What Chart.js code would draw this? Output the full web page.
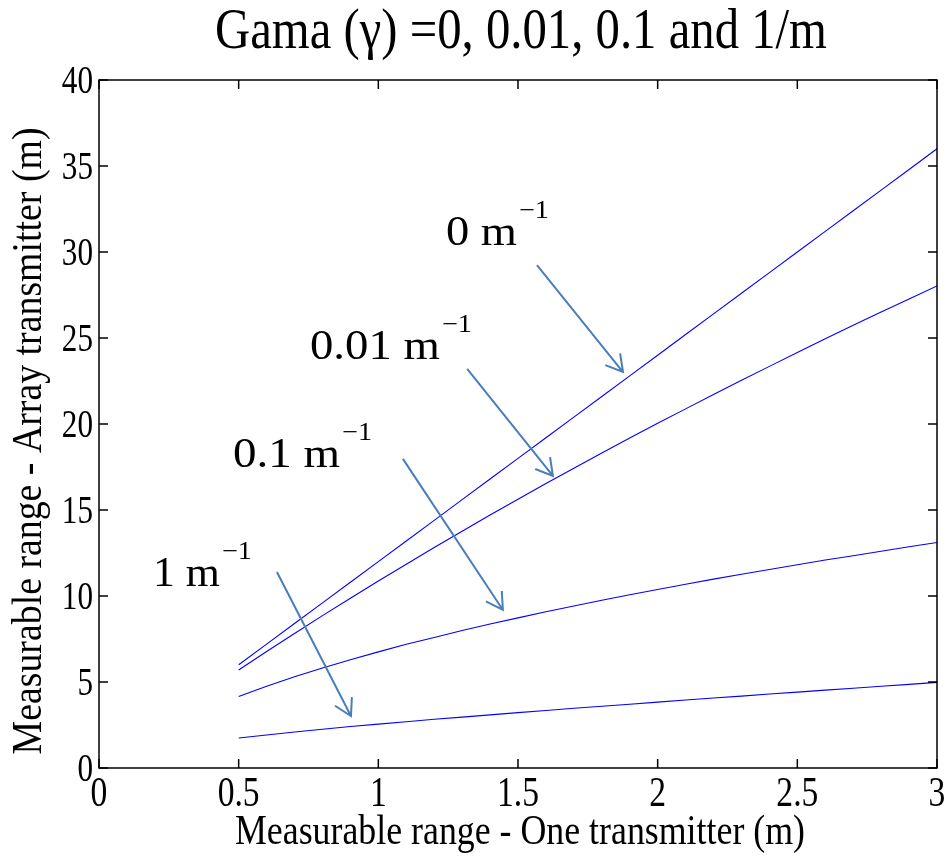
<!DOCTYPE html>
<html>
<head>
<meta charset="utf-8">
<script src="https://cdn.jsdelivr.net/npm/chart.js@4"></script>
<style>
  body { margin: 0; background: #fff; }
</style>
</head>
<body>
<canvas id="range-chart" width="949" height="860"></canvas>
<script>
// Measurable range of one transmitter (m)
const singleRange = [0.5, 0.6, 0.7, 0.8, 0.9, 1.0, 1.1, 1.2, 1.3, 1.4, 1.5, 1.6, 1.7,
                     1.8, 1.9, 2.0, 2.1, 2.2, 2.3, 2.4, 2.5, 2.6, 2.7, 2.8, 2.9, 3.0];

// Measurable range of the array transmitter (m), one list per gamma
const arrayGamma0 = [6.0, 7.2, 8.4, 9.6, 10.8, 12.0, 13.2, 14.4, 15.6, 16.8, 18.0, 19.2, 20.4,
                     21.6, 22.8, 24.0, 25.2, 26.4, 27.6, 28.8, 30.0, 31.2, 32.4, 33.6, 34.8, 36.0];
const arrayGamma001 = [5.70, 6.77, 7.82, 8.86, 9.87, 10.87, 11.85, 12.82, 13.77, 14.71, 15.63, 16.54, 17.43,
                       18.31, 19.18, 20.04, 20.88, 21.72, 22.54, 23.35, 24.16, 24.95, 25.74, 26.51, 27.27, 28.03];
const arrayGamma01 = [4.16, 4.75, 5.30, 5.81, 6.29, 6.75, 7.19, 7.59, 7.99, 8.37, 8.73, 9.08, 9.42,
                      9.75, 10.07, 10.38, 10.68, 10.98, 11.26, 11.54, 11.82, 12.09, 12.34, 12.60, 12.86, 13.11];
const arrayGamma1 = [1.74, 1.92, 2.09, 2.25, 2.41, 2.55, 2.69, 2.83, 2.96, 3.09, 3.22, 3.34, 3.47,
                     3.59, 3.71, 3.83, 3.95, 4.07, 4.18, 4.30, 4.41, 4.53, 4.64, 4.75, 4.86, 4.98];

const seriesList = [arrayGamma0, arrayGamma001, arrayGamma01, arrayGamma1];
const seriesNames = ['0 m-1', '0.01 m-1', '0.1 m-1', '1 m-1'];

const xTicks = [0, 0.5, 1, 1.5, 2, 2.5, 3];
const yTicks = [0, 5, 10, 15, 20, 25, 30, 35, 40];

const chartTitle = 'Gama (\u03b3) =0, 0.01, 0.1 and 1/m';
const xTitle = 'Measurable range - One transmitter (m)';
const yTitle = 'Measurable range - Array transmitter (m)';

// Arrow labels, in data units: text anchor, arrow tail, arrow tip
const callouts = [
    { text: '0 m',    width: 71,  tx: 1.242, ty: 30.41, x0: 1.568, y0: 29.24, x1: 1.876, y1: 23.02 },
    { text: '0.01 m', width: 130, tx: 0.755, ty: 23.78, x0: 1.318, y0: 23.20, x1: 1.625, y1: 16.98 },
    { text: '0.1 m',  width: 107, tx: 0.480, ty: 17.50, x0: 1.088, y0: 17.97, x1: 1.446, y1: 9.19 },
    { text: '1 m',    width: 67,  tx: 0.193, ty: 10.58, x0: 0.637, y0: 11.40, x1: 0.902, y1: 3.02 }
];

const SERIF = '"Liberation Serif", "DejaVu Serif", serif';

// Draw text squeezed horizontally so it spans the given width
function fitText(ctx, text, x, y, size, width, align) {
    ctx.save();
    ctx.font = size + 'px ' + SERIF;
    const w = ctx.measureText(text).width;
    ctx.translate(x, y);
    ctx.scale(width / w, 1);
    ctx.textAlign = align;
    ctx.textBaseline = 'alphabetic';
    ctx.fillText(text, 0, 0);
    ctx.restore();
}

function squeezeText(ctx, text, x, y, size, sx, align) {
    ctx.save();
    ctx.font = size + 'px ' + SERIF;
    ctx.translate(x, y);
    ctx.scale(sx, 1);
    ctx.textAlign = align;
    ctx.textBaseline = 'alphabetic';
    ctx.fillText(text, 0, 0);
    ctx.restore();
}

const matlabAxes = {
    id: 'matlabAxes',
    afterDatasetsDraw(chart) {
        const ctx = chart.ctx;
        const area = chart.chartArea;
        const xs = chart.scales.x;
        const ys = chart.scales.y;
        const tickLen = 9;

        ctx.save();
        ctx.fillStyle = '#000';

        // box
        ctx.strokeStyle = '#000';
        ctx.lineWidth = 1.5;
        ctx.strokeRect(area.left, area.top, area.right - area.left, area.bottom - area.top);

        // inward ticks on all four sides + labels
        ctx.beginPath();
        xTicks.forEach(v => {
            const px = xs.getPixelForValue(v);
            ctx.moveTo(px, area.bottom); ctx.lineTo(px, area.bottom - tickLen);
            ctx.moveTo(px, area.top); ctx.lineTo(px, area.top + tickLen);
        });
        yTicks.forEach(v => {
            const py = ys.getPixelForValue(v);
            ctx.moveTo(area.left, py); ctx.lineTo(area.left + tickLen, py);
            ctx.moveTo(area.right, py); ctx.lineTo(area.right - tickLen, py);
        });
        ctx.stroke();

        xTicks.forEach(v => {
            squeezeText(ctx, String(v), xs.getPixelForValue(v), area.bottom + 38, 42, 0.8, 'center');
        });
        yTicks.forEach(v => {
            squeezeText(ctx, String(v), area.left - 6, ys.getPixelForValue(v) + 13, 41, 0.76, 'right');
        });

        // titles
        fitText(ctx, chartTitle, (area.left + area.right) / 2 + 3, 48, 56, 612, 'center');
        fitText(ctx, xTitle, (area.left + area.right) / 2 + 2, 844, 42, 570, 'center');
        ctx.save();
        ctx.translate(41, 441);
        ctx.rotate(-Math.PI / 2);
        fitText(ctx, yTitle, 0, 0, 42, 627, 'center');
        ctx.restore();

        // arrows with labels
        ctx.strokeStyle = '#4A7EBB';
        ctx.lineWidth = 2;
        callouts.forEach(c => {
            const ax = xs.getPixelForValue(c.x0), ay = ys.getPixelForValue(c.y0);
            const bx = xs.getPixelForValue(c.x1), by = ys.getPixelForValue(c.y1);
            const ang = Math.atan2(by - ay, bx - ax);
            const head = 19, spread = Math.PI / 6;
            ctx.beginPath();
            ctx.moveTo(ax, ay); ctx.lineTo(bx, by);
            ctx.moveTo(bx - head * Math.cos(ang - spread), by - head * Math.sin(ang - spread));
            ctx.lineTo(bx, by);
            ctx.lineTo(bx - head * Math.cos(ang + spread), by - head * Math.sin(ang + spread));
            ctx.stroke();

            const lx = xs.getPixelForValue(c.tx), ly = ys.getPixelForValue(c.ty);
            fitText(ctx, c.text, lx, ly, 43, c.width, 'left');
            fitText(ctx, '\u22121', lx + c.width + 2, ly - 27, 25, 30, 'left');
        });

        ctx.restore();
    }
};

const ctx = document.getElementById('range-chart').getContext('2d');
new Chart(ctx, {
    type: 'line',
    data: {
        datasets: seriesList.map((s, i) => ({
            label: seriesNames[i],
            data: singleRange.map((x, j) => ({ x: x, y: s[j] })),
            borderColor: '#0000FF',
            borderWidth: 1.1,
            pointRadius: 0,
            tension: 0,
            fill: false
        }))
    },
    options: {
        responsive: false,
        animation: false,
        layout: { padding: { left: 99, right: 12, top: 80, bottom: 92 } },
        scales: {
            x: { type: 'linear', min: 0, max: 3, display: false },
            y: { type: 'linear', min: 0, max: 40, display: false }
        },
        plugins: {
            legend: { display: false },
            title: { display: false },
            tooltip: { enabled: false }
        }
    },
    plugins: [matlabAxes]
});
</script>
</body>
</html>
